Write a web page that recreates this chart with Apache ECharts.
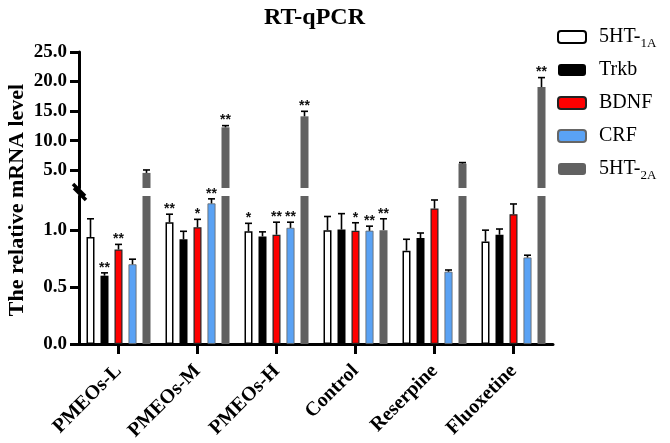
<!DOCTYPE html>
<html><head><meta charset="utf-8">
<script src="https://cdn.jsdelivr.net/npm/echarts@6/dist/echarts.min.js"></script>
<style>html,body{margin:0;padding:0;background:#fff}#c{width:670px;height:443px}</style>
</head><body><div id="c"></div>
<script>
// ---- data ----
const categories = ['PMEOs-L', 'PMEOs-M', 'PMEOs-H', 'Control', 'Reserpine', 'Fluoxetine'];
const geneNames = ['5HT-1A', 'Trkb', 'BDNF', 'CRF', '5HT-2A'];

const ht1a    = [0.94, 1.07, 0.99, 1.00, 0.82, 0.90];
const ht1aErr = [0.16, 0.07, 0.07, 0.12, 0.10, 0.10];
const trkb    = [0.60, 0.92, 0.945, 1.005, 0.93, 0.96];
const trkbErr = [0.025, 0.07, 0.04, 0.14, 0.045, 0.05];
const bdnf    = [0.83, 1.025, 0.96, 0.995, 1.19, 1.14];
const bdnfErr = [0.045, 0.07, 0.11, 0.07, 0.075, 0.09];
const crf     = [0.70, 1.235, 1.02, 0.995, 0.635, 0.76];
const crfErr  = [0.045, 0.04, 0.05, 0.04, 0.015, 0.02];
const ht2a    = [4.55, 12.26, 14.12, 1.00, 6.13, 19.07];
const ht2aErr = [0.50, 0.29, 0.85, 0.10, 0.17, 1.60];

const sig1a   = ['', '**', '*', '', '', ''];
const sigTrkb = ['**', '', '', '', '', ''];
const sigBdnf = ['**', '*', '**', '*', '', ''];
const sigCrf  = ['', '**', '**', '**', '', ''];
const sig2a   = ['', '**', '**', '**', '', '**'];

const lowerTicks = [0, 0.5, 1.0];
const upperTicks = [5, 10, 15, 20, 25];
const lowerMax = 1.3, upperMin = 2, upperMax = 25;

// ---- styling ----
const SERIF = '"Liberation Serif","Times New Roman",serif';
const GL = 79, GW = 474;
const LOW_TOP = 196, LOW_H = 148, UP_TOP = 52, UP_H = 136;
const BAR_W = 8, BAR_STEP = 14;

const genes = [
  { name: geneNames[0], vals: ht1a, errs: ht1aErr, sig: sig1a, style: { color: '#ffffff', borderColor: '#000', borderWidth: 1.5 } },
  { name: geneNames[1], vals: trkb, errs: trkbErr, sig: sigTrkb, style: { color: '#000000' } },
  { name: geneNames[2], vals: bdnf, errs: bdnfErr, sig: sigBdnf, style: { color: '#ff0000', borderColor: '#222', borderWidth: 1.2 } },
  { name: geneNames[3], vals: crf, errs: crfErr, sig: sigCrf, style: { color: '#5aa2f4', borderColor: '#666', borderWidth: 0.8 } },
  { name: geneNames[4], vals: ht2a, errs: ht2aErr, sig: sig2a, style: { color: '#616161' } }
];

function yAxisDef(gridIndex, min, max, ticks) {
  return {
    type: 'value', gridIndex, min, max,
    splitLine: { show: false },
    axisLine: { show: true, onZero: false, lineStyle: { color: '#000', width: 3 } },
    axisTick: { show: true, length: 9, customValues: ticks, lineStyle: { color: '#000', width: 3 } },
    axisLabel: { customValues: ticks, formatter: v => Number(v).toFixed(1), color: '#000',
      fontFamily: SERIF, fontWeight: 'bold', fontSize: 19, margin: 12 }
  };
}

function errSeries(gridIdx, keep) {
  const items = [], sigs = [];
  genes.forEach((g, b) => {
    g.vals.forEach((v, c) => {
      if (keep(v)) { items.push([c, b, v, g.errs[c]]); sigs.push(g.sig[c]); }
    });
  });
  return {
    type: 'custom', xAxisIndex: gridIdx, yAxisIndex: gridIdx, silent: true, z: 10,
    dimensions: ['c', 'b', 'v', 'e'], encode: { x: 0, y: 2 },
    data: items,
    renderItem: function (params, api) {
      const c = api.value(0), b = api.value(1), v = api.value(2), e = api.value(3);
      const p0 = api.coord([c, v]), p1 = api.coord([c, v + e]);
      const x = p0[0] + (b - 2) * BAR_STEP;
      const st = { stroke: '#000', lineWidth: 1.6 };
      const children = [
        { type: 'line', shape: { x1: x, y1: p0[1], x2: x, y2: p1[1] }, style: st },
        { type: 'line', shape: { x1: x - 3.5, y1: p1[1], x2: x + 3.5, y2: p1[1] }, style: st }
      ];
      const s = sigs[params.dataIndex];
      if (s) children.push({ type: 'text', x: x, y: p1[1] + 2,
        style: { text: s, fill: '#111', font: 'bold 14px "Liberation Sans"', align: 'center', verticalAlign: 'bottom' } });
      return { type: 'group', children };
    }
  };
}

const series = [];
genes.forEach(g => {
  series.push({ type: 'bar', name: g.name, xAxisIndex: 0, yAxisIndex: 0, data: g.vals,
    barWidth: BAR_W, barGap: '75%', itemStyle: g.style, emphasis: { disabled: true } });
});
genes.forEach(g => {
  series.push({ type: 'bar', name: g.name, xAxisIndex: 1, yAxisIndex: 1,
    data: g.vals.map(v => (v > upperMin ? v : null)),
    barWidth: BAR_W, barGap: '75%', itemStyle: g.style, emphasis: { disabled: true } });
});
series.push(errSeries(0, v => v <= lowerMax));
series.push(errSeries(1, v => v > upperMin));

const chart = echarts.init(document.getElementById('c'));
const breakY = (UP_TOP + UP_H + LOW_TOP) / 2;
chart.setOption({
  animation: false,
  backgroundColor: '#fff',
  title: { text: 'RT-qPCR', left: 259, top: 1,
    textStyle: { fontFamily: SERIF, fontWeight: 'bold', fontSize: 24, color: '#000' } },
  legend: {
    data: geneNames, orient: 'vertical', left: 552, top: 19,
    itemWidth: 28, itemHeight: 12, itemGap: 7,
    formatter: n => n === '5HT-1A' ? '5HT-{sub|1A}' : (n === '5HT-2A' ? '5HT-{sub|2A}' : n),
    textStyle: { fontFamily: SERIF, fontSize: 20, color: '#000', lineHeight: 26, padding: [0, 0, 0, 8],
      rich: { sub: { fontFamily: SERIF, fontSize: 13, color: '#000', verticalAlign: 'bottom', lineHeight: 26 } } }
  },
  grid: [
    { left: GL, width: GW, top: LOW_TOP, height: LOW_H, outerBoundsMode: 'none', containLabel: false },
    { left: GL, width: GW, top: UP_TOP, height: UP_H, outerBoundsMode: 'none', containLabel: false }
  ],
  xAxis: [
    { type: 'category', gridIndex: 0, data: categories,
      axisLine: { show: true, lineStyle: { color: '#000', width: 3 } },
      axisTick: { show: true, alignWithLabel: true, interval: 0, length: 10, lineStyle: { color: '#000', width: 3 } },
      axisLabel: { interval: 0, rotate: 45, margin: 24, color: '#000', fontFamily: SERIF, fontWeight: 'bold', fontSize: 20 } },
    { type: 'category', gridIndex: 1, data: categories, show: false }
  ],
  yAxis: [
    yAxisDef(0, 0, lowerMax, lowerTicks),
    yAxisDef(1, upperMin, upperMax, upperTicks)
  ],
  graphic: [
    { type: 'text', x: 17, y: 200, rotation: Math.PI / 2,
      style: { text: 'The relative mRNA level', font: 'bold 22px "Liberation Serif"', fill: '#000', align: 'center', verticalAlign: 'middle' } },
    { type: 'rect', shape: { x: GL - 3, y: UP_TOP + UP_H, width: 6, height: LOW_TOP - UP_TOP - UP_H }, style: { fill: '#fff' } },
    { type: 'line', shape: { x1: GL - 6, y1: breakY - 8, x2: GL + 6, y2: breakY + 4 }, style: { stroke: '#000', lineWidth: 3.5 } },
    { type: 'line', shape: { x1: GL - 5, y1: breakY - 4, x2: GL + 7, y2: breakY + 8 }, style: { stroke: '#000', lineWidth: 3.5 } }
  ],
  series
});
</script></body></html>
